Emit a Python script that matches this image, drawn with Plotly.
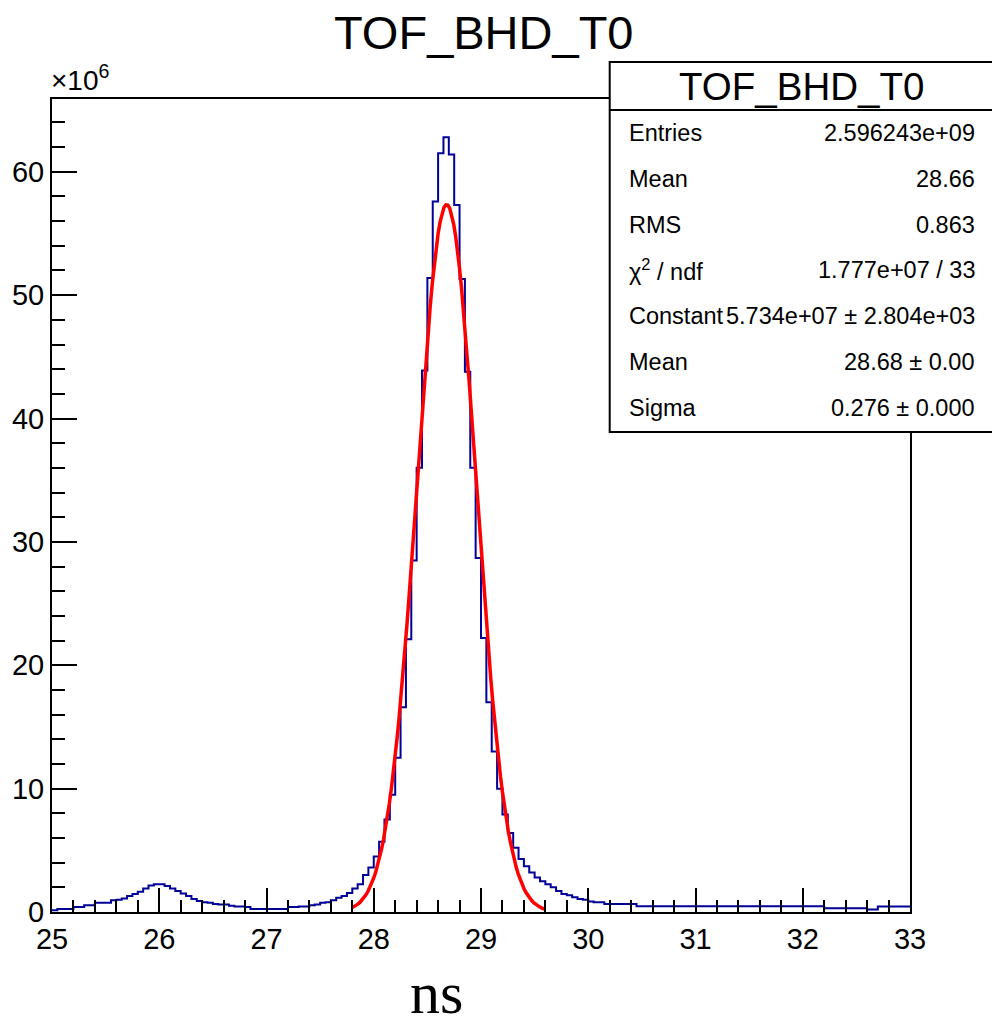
import numpy as np
import plotly.graph_objects as go

# Histogram: 160 bins of 0.05 ns from 25 to 33 (counts in units of 1e6)
bin_start = 25.0
bin_width = 0.05
counts_M = [
    0.15, 0.25, 0.25, 0.25, 0.4, 0.4, 0.55, 0.55, 0.75, 0.75,
    0.75, 0.95, 1.0, 1.1, 1.3, 1.45, 1.65, 1.9, 2.15, 2.25,
    2.25, 2.1, 1.9, 1.7, 1.5, 1.3, 1.05, 0.9, 0.8, 0.75,
    0.65, 0.6, 0.6, 0.5, 0.45, 0.45, 0.4, 0.25, 0.25, 0.25,
    0.25, 0.25, 0.25, 0.25, 0.4, 0.4, 0.45, 0.45, 0.55, 0.6,
    0.75, 0.8, 0.95, 1.15, 1.3, 1.55, 1.9, 2.25, 3.0, 3.6,
    4.5, 5.7, 7.5, 9.5, 12.5, 16.6, 22.1, 28.5, 36.0, 43.9,
    51.4, 57.6, 61.5, 62.8, 61.4, 57.3, 51.3, 43.8, 36.0, 28.7,
    22.2, 17.0, 13.0, 10.0, 7.9, 6.4, 5.2, 4.3, 3.7, 3.2,
    2.8, 2.5, 2.25, 2.0, 1.7, 1.45, 1.35, 1.2, 1.05, 1.0,
    0.85, 0.8, 0.8, 0.65, 0.65, 0.65, 0.65, 0.65, 0.65, 0.47,
] + [0.47] * 34 + [0.3] * 8 + [0.2, 0.2] + [0.45] * 6

# Gaussian fit parameters (from stats box)
fit_constant_M = 57.34
fit_mean = 28.68
fit_sigma = 0.276
fit_range = [27.8, 29.6]

x_ticks = [25, 26, 27, 28, 29, 30, 31, 32, 33]
y_ticks = [0, 10, 20, 30, 40, 50, 60]

stats_labels = ["Entries", "Mean", "RMS", "χ<sup>2</sup> / ndf", "Constant", "Mean", "Sigma"]
stats_values = ["2.596243e+09", "28.66", "0.863", "1.777e+07 / 33",
                "5.734e+07 ± 2.804e+03", "28.68 ± 0.00", "0.276 ± 0.000"]

edges = bin_start + bin_width * np.arange(len(counts_M) + 1)
yvals = counts_M + [counts_M[-1]]

xf = np.linspace(fit_range[0], fit_range[1], 100)
yf = fit_constant_M * np.exp(-0.5 * ((xf - fit_mean) / fit_sigma) ** 2)

W, H = 992, 1018
L, R, T, B = 50, 82, 99, 106
pw, ph = W - L - R, H - T - B


def px(xp):
    return (xp - L) / pw


def py(yp):
    return (H - B - yp) / ph


fig = go.Figure()
fig.add_trace(go.Scatter(x=edges, y=yvals, mode="lines", line_shape="hv",
                         line=dict(color="#000099", width=2), showlegend=False))
fig.add_trace(go.Scatter(x=xf, y=yf, mode="lines",
                         line=dict(color="#ff0000", width=3.5), showlegend=False))

font = "Liberation Sans, Arial, Helvetica, sans-serif"
fig.update_layout(
    width=W, height=H, autosize=False,
    margin=dict(l=L, r=R, t=T, b=B, pad=0),
    paper_bgcolor="white", plot_bgcolor="white",
    font=dict(family=font, color="black"),
    xaxis=dict(range=[25, 33], tickvals=x_ticks, ticktext=[str(v) for v in x_ticks],
               ticks="inside", ticklen=24, tickwidth=2, tickcolor="black",
               showline=True, linewidth=2, linecolor="black", mirror=True,
               showgrid=False, zeroline=False,
               minor=dict(dtick=0.2, ticks="inside", ticklen=12, tickwidth=2, tickcolor="black"),
               tickfont=dict(size=29, family=font, color="black")),
    yaxis=dict(range=[0, 65.9], tickvals=y_ticks, ticktext=[str(v) for v in y_ticks],
               ticks="inside", ticklen=25, tickwidth=2, tickcolor="black",
               showline=True, linewidth=2, linecolor="black", mirror=True,
               showgrid=False, zeroline=False,
               minor=dict(dtick=2, ticks="inside", ticklen=13, tickwidth=2, tickcolor="black"),
               tickfont=dict(size=29, family=font, color="black")),
)

# Stats box
fig.add_shape(type="rect", xref="paper", yref="paper",
              x0=px(609), x1=px(996), y0=py(432), y1=py(62),
              line=dict(color="black", width=2), fillcolor="white", layer="above")
fig.add_shape(type="line", xref="paper", yref="paper",
              x0=px(609), x1=px(996), y0=py(110), y1=py(110),
              line=dict(color="black", width=2), layer="above")

ann = []
ann.append(dict(text="TOF_BHD_T0", x=px(483), y=py(33), xref="paper", yref="paper",
                xanchor="center", yanchor="middle", showarrow=False,
                font=dict(size=47, family=font, color="black")))
ann.append(dict(text="TOF_BHD_T0", x=px(801), y=py(86), xref="paper", yref="paper",
                xanchor="center", yanchor="middle", showarrow=False,
                font=dict(size=38.5, family=font, color="black")))
row_y = [133, 179, 225, 270, 316, 362, 408]
for lab, val, yy in zip(stats_labels, stats_values, row_y):
    ann.append(dict(text=lab, x=px(626), y=py(yy), xref="paper", yref="paper",
                    xanchor="left", yanchor="middle", showarrow=False,
                    font=dict(size=23.5, family=font, color="black")))
    ann.append(dict(text=val, x=px(977), y=py(yy), xref="paper", yref="paper",
                    xanchor="right", yanchor="middle", showarrow=False,
                    font=dict(size=23.5, family=font, color="black")))
ann.append(dict(text="×10<sup>6</sup>", x=px(47), y=py(98), xref="paper", yref="paper",
                xanchor="left", yanchor="bottom", showarrow=False,
                font=dict(size=28, family=font, color="black")))
ann.append(dict(text="ns", x=px(435), y=py(993), xref="paper", yref="paper",
                xanchor="center", yanchor="middle", showarrow=False,
                font=dict(size=60, family="Liberation Serif, Times New Roman, serif", color="black")))
fig.update_layout(annotations=ann)

fig.write_html("out.html")
